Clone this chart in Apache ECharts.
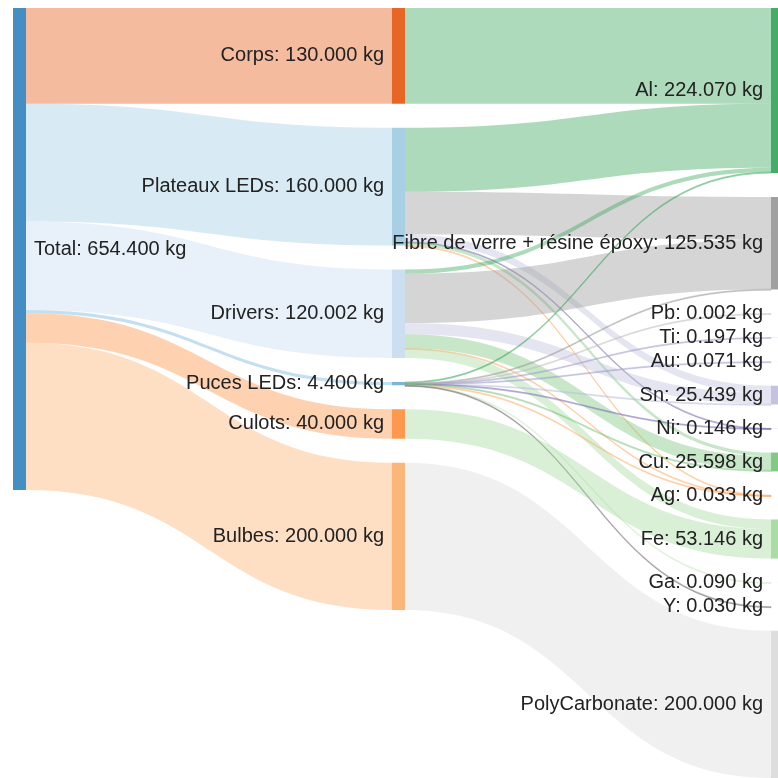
<!DOCTYPE html>
<html>
<head>
<meta charset="utf-8">
<title>Sankey LED</title>
<script src="https://cdn.jsdelivr.net/npm/echarts@6/dist/echarts.min.js"></script>
<style>
    html, body {
      margin: 0;
      padding: 0;
      background: #fff;
    }
    #chart {
      width: 778px;
      height: 778px;
    }
</style>
</head>
<body>
<div id="chart"></div>
<script type="text/javascript">
    // noeuds (kg)
    var nodeNames = ['Total', 'Corps', 'Plateaux LEDs', 'Drivers', 'Puces LEDs', 'Culots', 'Bulbes',
        'Al', 'Fibre de verre + résine époxy', 'Pb', 'Ti', 'Au', 'Sn', 'Ni', 'Cu', 'Ag', 'Fe', 'Ga', 'Y', 'PolyCarbonate'];
    var nodeColors = ['#3182bd', '#e6550d', '#9ecae1', '#c6dbef', '#6baed6', '#fd8d3c', '#fdae6b',
        '#31a354', '#969696', '#bdbdbd', '#9e9ac8', '#9e9ac8', '#bcbddc', '#756bb1', '#74c476', '#fdae6b', '#a1d99b', '#c7e9c0', '#636363', '#d9d9d9'];

    // flux
    var linkSource = ['Total', 'Total', 'Total', 'Total', 'Total', 'Total',
        'Corps',
        'Plateaux LEDs', 'Plateaux LEDs', 'Plateaux LEDs', 'Plateaux LEDs', 'Plateaux LEDs', 'Plateaux LEDs',
        'Drivers', 'Drivers', 'Drivers', 'Drivers', 'Drivers', 'Drivers',
        'Puces LEDs', 'Puces LEDs', 'Puces LEDs', 'Puces LEDs', 'Puces LEDs', 'Puces LEDs',
        'Puces LEDs', 'Puces LEDs', 'Puces LEDs', 'Puces LEDs', 'Puces LEDs',
        'Culots',
        'Bulbes'];
    var linkTarget = ['Corps', 'Plateaux LEDs', 'Drivers', 'Puces LEDs', 'Culots', 'Bulbes',
        'Al',
        'Al', 'Fibre de verre + résine époxy', 'Sn', 'Ni', 'Cu', 'Ag',
        'Al', 'Fibre de verre + résine époxy', 'Sn', 'Cu', 'Ag', 'Fe',
        'Al', 'Fibre de verre + résine époxy', 'Pb', 'Ti', 'Au', 'Sn',
        'Ni', 'Cu', 'Ag', 'Ga', 'Y',
        'Fe',
        'PolyCarbonate'];
    var linkValue = [130, 160, 120, 4.4, 40, 200,
        130,
        87, 58.035, 10, 0.05, 4.9, 0.015,
        5.57, 67, 15.2, 19.083, 0.003, 13.146,
        1.5, 0.5, 0.002, 0.197, 0.071, 0.239,
        0.096, 1.615, 0.015, 0.09, 0.03,
        40,
        200];

    function colorOf(name) {
        return nodeColors[nodeNames.indexOf(name)];
    }

    // valeur d'un noeud = max(entrant, sortant)
    var nodes = nodeNames.map(function(name, i) {
        var vin = 0, vout = 0;
        for (var k = 0; k < linkValue.length; k++) {
            if (linkTarget[k] === name) vin += linkValue[k];
            if (linkSource[k] === name) vout += linkValue[k];
        }
        return {
            name: name,
            value: Math.max(vin, vout),
            itemStyle: { color: nodeColors[i] },
            label: { position: i === 0 ? 'right' : 'left' }
        };
    });

    var links = linkValue.map(function(v, k) {
        var link = { source: linkSource[k], target: linkTarget[k], value: v };
        if (v < 2) {
            link.lineStyle = { borderColor: colorOf(linkTarget[k]), borderWidth: 1 };
        }
        return link;
    });

    var myChart = echarts.init(document.getElementById('chart'));
    var option = {
        animation: false,
        series: [
            {
                type: 'sankey',
                left: 13,
                top: 8,
                width: 771,
                height: 770,
                nodeWidth: 13,
                nodeGap: 24,
                nodeAlign: 'justify',
                layoutIterations: 0,
                draggable: false,
                data: nodes,
                links: links,
                itemStyle: {
                    opacity: 0.9,
                    borderWidth: 0
                },
                lineStyle: {
                    color: 'target',
                    opacity: 0.4,
                    curveness: 0.5
                },
                label: {
                    fontSize: 20,
                    fontFamily: 'Liberation Sans, Arial, sans-serif',
                    color: '#222',
                    distance: 8,
                    formatter: function(p) {
                        return p.name + ': ' + p.value.toFixed(3) + ' kg';
                    }
                }
            }
        ]
    };
    myChart.setOption(option);
</script>
</body>
</html>
